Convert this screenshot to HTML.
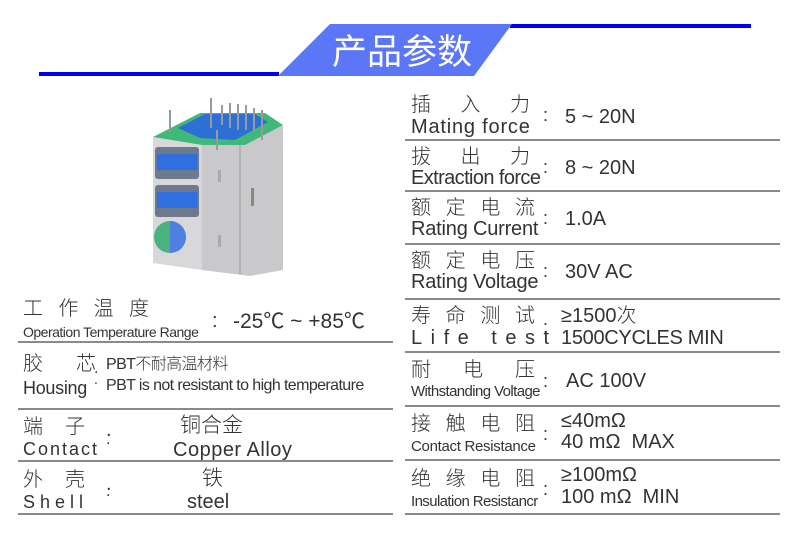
<!DOCTYPE html>
<html><head><meta charset="utf-8"><style>
body{margin:0;width:790px;height:553px;background:#fff;position:relative;overflow:hidden;font-family:"Liberation Sans","Noto Sans CJK SC",sans-serif;color:#333}
.a{position:absolute;white-space:nowrap;line-height:1}
.ln{position:absolute;height:2px;background:#8a8a8a}
.sp{display:flex;justify-content:space-between}
.cn{font-family:"Noto Sans CJK SC","WenQuanYi Zen Hei",sans-serif;font-weight:300}
</style></head><body>
<svg class="a" style="left:0;top:0" width="790" height="553">
<rect x="39" y="72" width="240" height="4" fill="#0000ee"/>
<rect x="510" y="24" width="241" height="4" fill="#0000ee"/>
<polygon points="330,24 512,24 474,76 278,76" fill="#5b76f7"/>
<text x="402" y="64" text-anchor="middle" fill="#fff" font-size="35" font-family="Noto Sans CJK SC,sans-serif">产品参数</text>
<g>
<polygon points="202,145 245,143 283,125 283,270 250,276 202,270" fill="#c9c9cc"/>
<line x1="240" y1="145" x2="240" y2="274" stroke="#999"/>
<polygon points="153,137 202,145 202,270 153,263" fill="#d8d8db"/>
<polygon points="153,137 200,113 265,113 283,125 245,145 202,145" fill="#3fb87a"/>
<polygon points="178,128 205,114 255,114 268,122 235,140 200,138" fill="#2e6fd6"/>
<g stroke="#999" stroke-width="2">
<line x1="170" y1="110" x2="170" y2="132"/><line x1="211" y1="98" x2="211" y2="128"/>
<line x1="222" y1="105" x2="222" y2="125"/><line x1="230" y1="103" x2="230" y2="128"/>
<line x1="238" y1="104" x2="238" y2="130"/><line x1="246" y1="105" x2="246" y2="130"/>
<line x1="254" y1="108" x2="254" y2="132"/><line x1="262" y1="110" x2="262" y2="133"/>
<line x1="217" y1="130" x2="217" y2="150"/><line x1="262" y1="115" x2="262" y2="140"/>
</g>
<rect x="155" y="147" width="44" height="32" rx="3" fill="#6d7a8d"/>
<rect x="157" y="154" width="40" height="16" fill="#2f6fe0"/>
<rect x="155" y="185" width="44" height="32" rx="3" fill="#6d7a8d"/>
<rect x="157" y="192" width="40" height="16" fill="#2f6fe0"/>
<circle cx="170" cy="237" r="16" fill="#49b27e"/>
<path d="M170,221 A16,16 0 0 1 170,253 Z" fill="#4f7fe0"/>
<rect x="218" y="170" width="3" height="12" fill="#aaa"/>
<rect x="251" y="188" width="3" height="18" fill="#888"/>
<rect x="218" y="235" width="3" height="12" fill="#aaa"/>
</g>
</svg>

<div class="a cn sp" style="left:23px;top:297px;width:126px;font-size:20px"><span>工</span><span>作</span><span>温</span><span>度</span></div>
<div class="a" style="left:23px;top:325px;font-size:14px;letter-spacing:-0.5px">Operation Temperature Range</div>
<div class="a" style="left:212px;top:311px;font-size:20px">:</div>
<div class="a" style="left:233px;top:311px;font-size:21px">-25℃ ~ +85℃</div>
<div class="ln" style="left:18px;top:341px;width:375px"></div>

<div class="a cn sp" style="left:23px;top:352px;width:73px;font-size:20px"><span>胶</span><span>芯</span></div>
<div class="a" style="left:94px;top:361px;font-size:16px">.</div>
<div class="a" style="left:94px;top:372px;font-size:14px">.</div>
<div class="a" style="left:23px;top:379px;font-size:18px;letter-spacing:-0.3px">Housing</div>
<div class="a" style="left:106px;top:354px;font-size:16px;letter-spacing:-0.6px">PBT<span class="cn">不耐高温材料</span></div>
<div class="a" style="left:106px;top:378px;font-size:16px;letter-spacing:-0.6px">PBT is not resistant to high temperature</div>
<div class="ln" style="left:18px;top:408px;width:375px"></div>

<div class="a cn sp" style="left:23px;top:415px;width:62px;font-size:20px"><span>端</span><span>子</span></div>
<div class="a" style="left:106px;top:420px;font-size:20px">.</div>
<div class="a" style="left:106px;top:432px;font-size:16px">.</div>
<div class="a" style="left:23px;top:440px;font-size:18px;letter-spacing:2px">Contact</div>
<div class="a cn" style="left:180px;top:414px;font-size:21px">铜合金</div>
<div class="a" style="left:173px;top:440px;font-size:20px;letter-spacing:0.5px">Copper Alloy</div>
<div class="ln" style="left:18px;top:460px;width:375px"></div>

<div class="a cn sp" style="left:23px;top:468px;width:62px;font-size:20px"><span>外</span><span>壳</span></div>
<div class="a" style="left:106px;top:474px;font-size:20px">.</div>
<div class="a" style="left:106px;top:484px;font-size:16px">.</div>
<div class="a" style="left:23px;top:493px;font-size:18px;letter-spacing:5px">Shell</div>
<div class="a cn" style="left:202px;top:467px;font-size:21px">铁</div>
<div class="a" style="left:187px;top:492px;font-size:20px">steel</div>
<div class="ln" style="left:18px;top:513px;width:375px"></div>

<div class="a cn sp" style="left:411px;top:93px;width:119px;font-size:20px"><span>插</span><span>入</span><span>力</span></div>
<div class="a" style="left:411px;top:117px;font-size:20px;letter-spacing:0.8px">Mating force</div>
<div class="a" style="left:543px;top:106px;font-size:18px">:</div>
<div class="a" style="left:565px;top:107px;font-size:20px">5 ~ 20N</div>
<div class="ln" style="left:405px;top:139px;width:375px"></div>

<div class="a cn sp" style="left:411px;top:145px;width:119px;font-size:20px"><span>拔</span><span>出</span><span>力</span></div>
<div class="a" style="left:411px;top:168px;font-size:20px;letter-spacing:-0.6px">Extraction force</div>
<div class="a" style="left:543px;top:158px;font-size:18px">:</div>
<div class="a" style="left:565px;top:158px;font-size:20px">8 ~ 20N</div>
<div class="ln" style="left:405px;top:190px;width:375px"></div>

<div class="a cn sp" style="left:411px;top:196px;width:124px;font-size:20px"><span>额</span><span>定</span><span>电</span><span>流</span></div>
<div class="a" style="left:411px;top:219px;font-size:20px;letter-spacing:-0.2px">Rating Current</div>
<div class="a" style="left:543px;top:209px;font-size:18px">:</div>
<div class="a" style="left:565px;top:209px;font-size:20px">1.0A</div>
<div class="ln" style="left:405px;top:243px;width:375px"></div>

<div class="a cn sp" style="left:411px;top:249px;width:124px;font-size:20px"><span>额</span><span>定</span><span>电</span><span>压</span></div>
<div class="a" style="left:411px;top:272px;font-size:20px;letter-spacing:-0.2px">Rating Voltage</div>
<div class="a" style="left:543px;top:262px;font-size:18px">:</div>
<div class="a" style="left:565px;top:262px;font-size:20px">30V AC</div>
<div class="ln" style="left:405px;top:298px;width:375px"></div>

<div class="a cn sp" style="left:411px;top:304px;width:124px;font-size:20px"><span>寿</span><span>命</span><span>测</span><span>试</span></div>
<div class="a" style="left:411px;top:328px;font-size:20px;letter-spacing:8.5px">Life test</div>
<div class="a" style="left:543px;top:318px;font-size:18px">:</div>
<div class="a" style="left:561px;top:304px;font-size:20px">≥1500<span class="cn">次</span></div>
<div class="a" style="left:561px;top:328px;font-size:20px;letter-spacing:-0.3px">1500CYCLES MIN</div>
<div class="ln" style="left:405px;top:351px;width:375px"></div>

<div class="a cn sp" style="left:411px;top:358px;width:124px;font-size:20px"><span>耐</span><span>电</span><span>压</span></div>
<div class="a" style="left:411px;top:384px;font-size:15px;letter-spacing:-0.6px">Withstanding Voltage</div>
<div class="a" style="left:543px;top:372px;font-size:18px">:</div>
<div class="a" style="left:566px;top:371px;font-size:20px">AC 100V</div>
<div class="ln" style="left:405px;top:405px;width:375px"></div>

<div class="a cn sp" style="left:411px;top:412px;width:124px;font-size:20px"><span>接</span><span>触</span><span>电</span><span>阻</span></div>
<div class="a" style="left:411px;top:439px;font-size:15px;letter-spacing:-0.3px">Contact Resistance</div>
<div class="a" style="left:543px;top:425px;font-size:18px">:</div>
<div class="a" style="left:561px;top:411px;font-size:20px">≤40mΩ</div>
<div class="a" style="left:561px;top:432px;font-size:20px">40 mΩ&nbsp; MAX</div>
<div class="ln" style="left:405px;top:459px;width:375px"></div>

<div class="a cn sp" style="left:411px;top:467px;width:124px;font-size:20px"><span>绝</span><span>缘</span><span>电</span><span>阻</span></div>
<div class="a" style="left:411px;top:494px;font-size:15px;letter-spacing:-0.6px">Insulation Resistancr</div>
<div class="a" style="left:543px;top:480px;font-size:18px">:</div>
<div class="a" style="left:561px;top:465px;font-size:20px">≥100mΩ</div>
<div class="a" style="left:561px;top:487px;font-size:20px">100 mΩ&nbsp; MIN</div>
<div class="ln" style="left:405px;top:513px;width:375px"></div>
</body></html>
